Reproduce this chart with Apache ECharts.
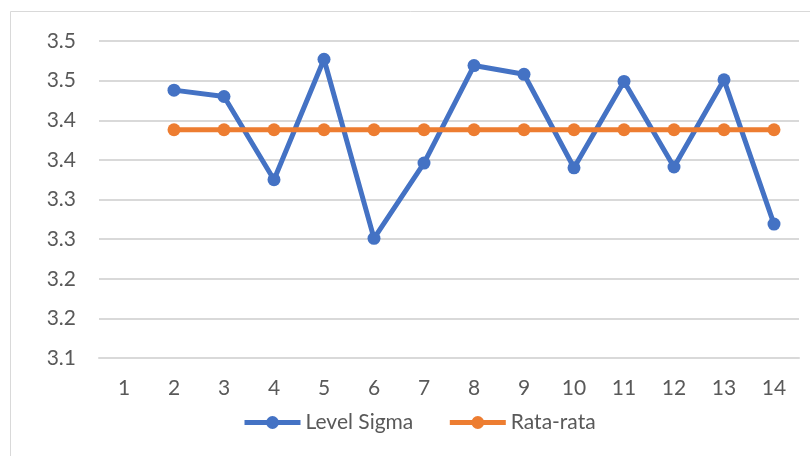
<!DOCTYPE html>
<html>
<head>
<meta charset="utf-8">
<script src="https://cdn.jsdelivr.net/npm/echarts@6/dist/echarts.min.js"></script>
<style>
html,body{margin:0;padding:0;background:#fff;}
#chart{width:810px;height:456px;}
</style>
</head>
<body>
<div id="chart"></div>
<script>
const categories = ['1','2','3','4','5','6','7','8','9','10','11','12','13','14'];
const levelSigma = [null, 3.438, 3.430, 3.325, 3.477, 3.251, 3.346, 3.469, 3.458, 3.340, 3.449, 3.341, 3.451, 3.269];
const rataRata = [null, 3.388, 3.388, 3.388, 3.388, 3.388, 3.388, 3.388, 3.388, 3.388, 3.388, 3.388, 3.388, 3.388];
const yTickValues = [3.10, 3.15, 3.20, 3.25, 3.30, 3.35, 3.40, 3.45, 3.50];
const yTickLabels = ['3.1', '3.2', '3.2', '3.3', '3.3', '3.4', '3.4', '3.5', '3.5'];
const seriesNames = ['Level Sigma', 'Rata-rata'];

const FONT = 'Lato';
const TXT = '#595959';
const chart = echarts.init(document.getElementById('chart'), null, {renderer: 'canvas'});

function yLabel(v) {
  let best = 0, bd = Infinity;
  yTickValues.forEach((t, i) => { const d = Math.abs(t - v); if (d < bd) { bd = d; best = i; } });
  return yTickLabels[best];
}

chart.setOption({
  animation: false,
  backgroundColor: '#ffffff',
  graphic: [{
    type: 'rect',
    shape: {x: 10.5, y: 11.5, width: 820, height: 470},
    style: {fill: 'none', stroke: '#d9d9d9', lineWidth: 1},
    silent: true
  }],
  grid: {left: 99, right: 11, top: 41, bottom: 98, containLabel: false},
  legend: {
    data: seriesNames,
    left: 242,
    top: 412,
    padding: 0,
    itemWidth: 56,
    itemHeight: 16,
    itemGap: 34,
    lineStyle: {width: 5},
    textStyle: {fontFamily: FONT, fontSize: 21, color: TXT}
  },
  xAxis: {
    type: 'category',
    data: categories,
    boundaryGap: true,
    axisLine: {show: true, lineStyle: {color: '#d9d9d9', width: 2}},
    axisTick: {show: false},
    axisLabel: {fontFamily: FONT, fontSize: 21, color: TXT, margin: 20}
  },
  yAxis: {
    type: 'value',
    min: 3.10,
    max: 3.50,
    interval: 0.05,
    axisLine: {show: false},
    axisTick: {show: false},
    splitLine: {lineStyle: {color: '#d9d9d9', width: 2}},
    axisLabel: {fontFamily: FONT, fontSize: 21, color: TXT, margin: 23, formatter: yLabel}
  },
  series: [
    {
      name: seriesNames[0],
      type: 'line',
      data: levelSigma,
      color: '#4472C4',
      symbol: 'circle',
      symbolSize: 13,
      lineStyle: {width: 5, color: '#4472C4'},
      itemStyle: {color: '#4472C4'},
      z: 3
    },
    {
      name: seriesNames[1],
      type: 'line',
      data: rataRata,
      color: '#ED7D31',
      symbol: 'circle',
      symbolSize: 13,
      lineStyle: {width: 5, color: '#ED7D31'},
      itemStyle: {color: '#ED7D31'},
      z: 4
    }
  ]
});
</script>
</body>
</html>
